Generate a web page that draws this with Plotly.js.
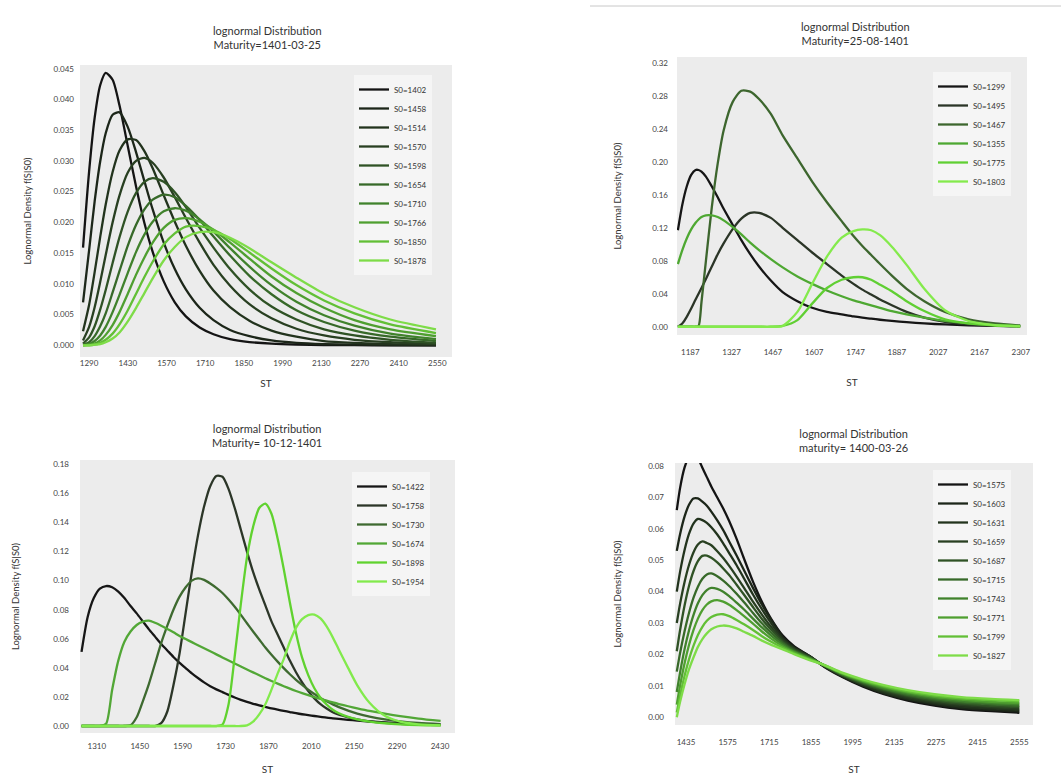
<!DOCTYPE html>
<html><head><meta charset="utf-8">
<script src="https://cdn.plot.ly/plotly-3.0.1.min.js"></script>
<style>html,body{margin:0;padding:0;background:#fff}#chart{width:1061px;height:776px}</style>
</head><body><div id="chart"></div>
<script>
// ---------------- Panel 1: Maturity=1401-03-25 ----------------
const st_p1 = [1268,1290,1310,1330,1350,1375,1400,1430,1460,1490,1520,1560,1600,1640,1690,1740,1800,1870,1950,2040,2140,2250,2380,2545];
const s0_p1 = ['S0=1402','S0=1458','S0=1514','S0=1570','S0=1598','S0=1654','S0=1710','S0=1766','S0=1850','S0=1878'];
const p1_1402 = [.0159,.0283,.0370,.0423,.0443,.0432,.0390,.0324,.0258,.0199,.0152,.0104,.0070,.0047,.0029,.0018,.0010,.00053,.00026,.00012,.00005,.00002,.00001,0];
const p1_1458 = [.0070,.0155,.0234,.0299,.0345,.0375,.0379,.0355,.0314,.0267,.0221,.0167,.0124,.0091,.0061,.0041,.0025,.0015,.0008,.0004,.0002,.0001,.00004,.00001];
const p1_1514 = [.0023,.0066,.0119,.0176,.0229,.0282,.0317,.0335,.0334,.0316,.0288,.0244,.0201,.0162,.0121,.0089,.0062,.0040,.0024,.0014,.0007,.0004,.0002,.0001];
const p1_1570 = [.0008,.0030,.0062,.0103,.0147,.0200,.0244,.0281,.0300,.0305,.0297,.0273,.0241,.0207,.0167,.0131,.0097,.0067,.0044,.0027,.0016,.0009,.0005,.0002];
const p1_1598 = [.0003,.0013,.0031,.0058,.0090,.0134,.0176,.0218,.0248,.0266,.0272,.0266,.0249,.0225,.0191,.0159,.0124,.0091,.0063,.0042,.0026,.0016,.0009,.0004];
const p1_1654 = [.0001,.0005,.0015,.0031,.0052,.0086,.0121,.0162,.0196,.0221,.0237,.0245,.0241,.0227,.0204,.0177,.0146,.0113,.0083,.0057,.0038,.0024,.0014,.0007];
const p1_1710 = [.00003,.0002,.0007,.0016,.0030,.0054,.0082,.0118,.0152,.0180,.0201,.0218,.0223,.0219,.0205,.0185,.0158,.0128,.0098,.0071,.0049,.0032,.0019,.0010];
const p1_1766 = [0,.0001,.0003,.0008,.0017,.0033,.0054,.0084,.0115,.0143,.0167,.0191,.0204,.0207,.0201,.0188,.0167,.0141,.0112,.0085,.0061,.0041,.0026,.0015];
const p1_1850 = [0,0,.0001,.0004,.0009,.0019,.0034,.0057,.0084,.0111,.0136,.0164,.0182,.0193,.0194,.0188,.0173,.0151,.0125,.0098,.0073,.0052,.0034,.0020];
const p1_1878 = [0,0,.0001,.0002,.0005,.0011,.0021,.0039,.0061,.0085,.0109,.0138,.0160,.0176,.0184,.0184,.0175,.0158,.0135,.0110,.0084,.0062,.0042,.0026];
const xt_p1 = [1290,1430,1570,1710,1850,1990,2130,2270,2410,2550];
const yt_p1 = [0,0.005,0.010,0.015,0.020,0.025,0.030,0.035,0.040,0.045];

// ---------------- Panel 2: Maturity=25-08-1401 ----------------
const st_p2 = [1145,1160,1175,1190,1205,1215,1225,1240,1260,1280,1300,1330,1360,1390,1420,1460,1500,1550,1600,1650,1700,1740,1770,1800,1830,1870,1920,1980,2050,2130,2220,2305];
const s0_p2 = ['S0=1299','S0=1495','S0=1467','S0=1355','S0=1775','S0=1803'];
const p2_1299 = [.117,.148,.170,.184,.190,.190,.188,.182,.170,.157,.143,.124,.105,.088,.073,.056,.042,.031,.023,.018,.015,.0125,.011,.0098,.0085,.007,.0055,.004,.0028,.0018,.001,.0005];
const p2_1495 = [0,.004,.012,.022,.033,.040,.047,.058,.073,.088,.101,.118,.131,.138,.138,.132,.120,.105,.090,.076,.062,.052,.045,.039,.033,.026,.018,.011,.006,.003,.0013,.0006];
const p2_1467 = [0,0,0,0,0,.001,.03,.08,.145,.198,.238,.272,.286,.285,.276,.258,.232,.204,.176,.151,.128,.110,.098,.087,.076,.062,.046,.031,.018,.009,.004,.0015];
const p2_1355 = [.076,.093,.107,.118,.126,.130,.133,.135,.135,.133,.129,.121,.112,.102,.093,.082,.072,.061,.052,.044,.037,.032,.029,.026,.023,.019,.015,.011,.007,.004,.002,.001];
const p2_1775 = [0,0,0,0,0,0,0,0,0,0,0,0,0,0,0,0,.001,.008,.028,.047,.057,.060,.060,.057,.051,.043,.031,.019,.009,.004,.0015,.0005];
const p2_1803 = [0,0,0,0,0,0,0,0,0,0,0,0,0,0,0,0,.001,.018,.052,.085,.108,.116,.118,.117,.111,.097,.075,.046,.020,.007,.002,.0005];
const xt_p2 = [1187,1327,1467,1607,1747,1887,2027,2167,2307];
const yt_p2 = [0,0.04,0.08,0.12,0.16,0.20,0.24,0.28,0.32];

// ---------------- Panel 3: Maturity= 10-12-1401 ----------------
const st_p3 = [1260,1280,1300,1320,1340,1360,1380,1400,1420,1440,1460,1480,1500,1520,1540,1560,1580,1600,1620,1640,1660,1680,1700,1720,1740,1760,1780,1800,1820,1840,1860,1880,1900,1920,1940,1960,1980,2000,2020,2040,2060,2080,2100,2130,2160,2200,2250,2300,2360,2432];
const s0_p3 = ['S0=1422','S0=1758','S0=1730','S0=1674','S0=1898','S0=1954'];
const p3_1422 = [.051,.075,.088,.0945,.0963,.0955,.0925,.0880,.0825,.0775,.0720,.0665,.0615,.0565,.0520,.0475,.0435,.0398,.0362,.0330,.0300,.0274,.0252,.0233,.0214,.0196,.0180,.0166,.0153,.0142,.0132,.0122,.0113,.0104,.0096,.0088,.0081,.0075,.0069,.0063,.0058,.0053,.0049,.0043,.0037,.0031,.0025,.0019,.0014,.0010];
const p3_1758 = [0,0,0,0,0,0,0,0,0,0,0,0,0,.002,.010,.028,.050,.078,.106,.131,.151,.165,.172,.1715,.163,.150,.135,.120,.106,.094,.083,.072,.063,.054,.045,.037,.030,.024,.019,.015,.012,.0095,.0078,.006,.0045,.0032,.0022,.0015,.001,.0006];
const p3_1730 = [0,0,0,0,0,0,0,0,.0005,.006,.017,.029,.043,.057,.069,.080,.089,.0955,.100,.1015,.1005,.098,.0950,.0915,.0870,.0820,.0765,.0707,.0650,.0595,.0540,.0490,.0443,.0398,.0356,.0318,.0283,.0250,.0220,.0193,.0170,.0149,.0130,.0106,.0085,.0064,.0045,.0032,.0021,.0013];
const p3_1674 = [0,0,0,0,.0015,.025,.045,.058,.065,.0695,.0718,.0725,.0710,.0690,.0668,.0645,.0620,.0598,.0577,.0556,.0535,.0514,.0493,.0472,.0451,.0430,.0409,.0389,.0369,.0349,.0329,.0310,.0292,.0274,.0257,.0241,.0226,.0212,.0199,.0186,.0174,.0162,.0151,.0136,.0122,.0104,.0085,.0068,.0051,.0035];
const p3_1898 = [0,0,0,0,0,0,0,0,0,0,0,0,0,0,0,0,0,0,0,0,0,0,0,.001,.015,.048,.084,.116,.137,.150,.153,.146,.129,.108,.085,.064,.047,.035,.026,.0195,.0148,.0112,.0088,.0063,.0046,.0031,.0019,.0012,.0007,.0004];
const p3_1954 = [0,0,0,0,0,0,0,0,0,0,0,0,0,0,0,0,0,0,0,0,0,0,0,0,0,0,0,.0005,.003,.008,.015,.025,.036,.046,.058,.0675,.0735,.0763,.0766,.0740,.0685,.0610,.0525,.0400,.0280,.0160,.0070,.0030,.0012,.0005];
const xt_p3 = [1310,1450,1590,1730,1870,2010,2150,2290,2430];
const yt_p3 = [0,0.02,0.04,0.06,0.08,0.10,0.12,0.14,0.16,0.18];

// ---------------- Panel 4: maturity= 1400-03-26 ----------------
const st_p4 = [1404,1415,1430,1445,1460,1475,1490,1505,1520,1540,1560,1580,1605,1630,1660,1690,1720,1760,1800,1850,1900,1960,2030,2100,2180,2270,2360,2460,2555];
const s0_p4 = ['S0=1575','S0=1603','S0=1631','S0=1659','S0=1687','S0=1715','S0=1743','S0=1771','S0=1799','S0=1827'];
const p4_1575 = [.066,.073,.0795,.083,.084,.0825,.0795,.0765,.0735,.0700,.0665,.0625,.0568,.0505,.0432,.0368,.0315,.0260,.0225,.0195,.0160,.0128,.0097,.0073,.0053,.0037,.0026,.0019,.0014];
const p4_1603 = [.053,.0583,.0639,.0677,.0697,.0697,.0687,.0674,.0655,.0627,.0596,.0560,.0515,.0468,.0412,.0359,.0312,.0255,.0222,.0195,.0161,.0130,.0100,.0076,.0057,.0041,.0030,.0023,.0018];
const p4_1631 = [.040,.0463,.0532,.0584,.0617,.0632,.0628,.0619,.0605,.0582,.0554,.0523,.0484,.0442,.0391,.0344,.0301,.0250,.0219,.0194,.0162,.0131,.0102,.0079,.0060,.0045,.0034,.0028,.0023];
const p4_1659 = [.030,.0361,.0430,.0485,.0525,.0550,.0560,.0555,.0548,.0529,.0507,.0482,.0448,.0412,.0368,.0327,.0289,.0245,.0217,.0193,.0163,.0133,.0105,.0083,.0064,.0049,.0039,.0032,.0027];
const p4_1687 = [.021,.0277,.0355,.0418,.0465,.0497,.0514,.0515,.0508,.0493,.0474,.0453,.0422,.0390,.0351,.0313,.0280,.0240,.0214,.0191,.0164,.0134,.0107,.0086,.0068,.0053,.0043,.0036,.0032];
const p4_1715 = [.0145,.0204,.0273,.0332,.0380,.0416,.0441,.0455,.0458,.0449,.0435,.0418,.0393,.0366,.0332,.0299,.0270,.0236,.0211,.0189,.0164,.0136,.0110,.0089,.0071,.0057,.0047,.0041,.0036];
const p4_1743 = [.008,.0142,.0216,.0276,.0325,.0363,.0389,.0405,.0412,.0409,.0400,.0386,.0365,.0343,.0314,.0286,.0261,.0231,.0208,.0188,.0165,.0137,.0112,.0092,.0075,.0061,.0051,.0045,.0041];
const p4_1771 = [.004,.0100,.0171,.0230,.0277,.0314,.0341,.0359,.0369,.0373,.0368,.0358,.0341,.0322,.0298,.0273,.0251,.0226,.0206,.0186,.0165,.0139,.0115,.0096,.0079,.0065,.0056,.0049,.0045];
const p4_1799 = [.0015,.0068,.0131,.0184,.0227,.0262,.0288,.0307,.0319,.0327,.0328,.0322,.0310,.0296,.0278,.0258,.0241,.0221,.0203,.0184,.0166,.0140,.0117,.0099,.0082,.0069,.0060,.0054,.0050];
const p4_1827 = [0,.0048,.0104,.0152,.0190,.0224,.0249,.0267,.0280,.0289,.0292,.0290,.0283,.0272,.0259,.0244,.0231,.0216,.0200,.0182,.0166,.0142,.0120,.0102,.0086,.0073,.0064,.0058,.0054];
const xt_p4 = [1435,1575,1715,1855,1995,2135,2275,2415,2555];
const yt_p4 = [0,0.01,0.02,0.03,0.04,0.05,0.06,0.07,0.08];

// ---------------- styles ----------------
const green10 = ['#141414','#1c2619','#22331d','#283f21','#2f5225','#376929','#40822c','#4f9f30','#62bf36','#7edc48'];
const colors_p2 = ['#161616','#2b3527','#3d662e','#4ea832','#60cf33','#84ea4c'];
const colors_p3 = ['#161616','#2c3628','#3e6a30','#52a736','#60d22f','#82ea4c'];
const FONT = 'Lato, "Open Sans", "DejaVu Sans", sans-serif';

const panels = [
  {st: st_p1, names: s0_p1, ys: [p1_1402,p1_1458,p1_1514,p1_1570,p1_1598,p1_1654,p1_1710,p1_1766,p1_1850,p1_1878], colors: green10, xa:'x', ya:'y', leg:'legend'},
  {st: st_p2, names: s0_p2, ys: [p2_1299,p2_1495,p2_1467,p2_1355,p2_1775,p2_1803], colors: colors_p2, xa:'x2', ya:'y2', leg:'legend2'},
  {st: st_p3, names: s0_p3, ys: [p3_1422,p3_1758,p3_1730,p3_1674,p3_1898,p3_1954], colors: colors_p3, xa:'x3', ya:'y3', leg:'legend3'},
  {st: st_p4, names: s0_p4, ys: [p4_1575,p4_1603,p4_1631,p4_1659,p4_1687,p4_1715,p4_1743,p4_1771,p4_1799,p4_1827], colors: green10, xa:'x4', ya:'y4', leg:'legend4'}
];

const traces = [];
panels.forEach(p => {
  p.ys.forEach((y, i) => {
    traces.push({
      type:'scatter', mode:'lines', x:p.st, y:y, name:p.names[i],
      line:{color:p.colors[i], width:2.3, shape:'spline', smoothing:0.7},
      xaxis:p.xa, yaxis:p.ya, legend:p.leg, hoverinfo:'skip'
    });
  });
});

function xaxis(domain, range, tv, anchor, lblOff, titleOff) {
  return {domain, range, tickvals:tv, ticktext:tv.map(String), anchor, showgrid:false, zeroline:false, showline:false,
    ticks:'', ticklabelstandoff:lblOff, tickfont:{family:FONT, size:8, color:'#444'},
    title:{text:'ST', font:{family:FONT, size:10, color:'#333'}, standoff:titleOff}};
}
function yaxis(domain, range, tv, fmt, anchor, lblOff, titleOff) {
  return {domain, range, tickvals:tv, tickformat:fmt, anchor, showgrid:false, zeroline:false, showline:false,
    ticks:'', ticklabelstandoff:lblOff, tickfont:{family:FONT, size:8, color:'#444'},
    title:{text:'Lognormal Density f(S|S0)', font:{family:FONT, size:9.5, color:'#333'}, standoff:titleOff}};
}
function leg(x, y) {
  return {x, y, xanchor:'left', yanchor:'top', bgcolor:'rgba(246,246,246,0.9)', borderwidth:0,
    font:{family:FONT, size:8, color:'#333'}, tracegroupgap:0};
}
const W = 1061, H = 776;
const px = v => v / W, py = v => 1 - v / H;

const ttl = (x, y, t) => ({xref:'paper', yref:'paper', x, y, xanchor:'center', yanchor:'middle', showarrow:false,
  text:t, font:{family:FONT, size:11, color:'#333'}});

const layout = {
  width:W, height:H, margin:{l:0, r:0, t:0, b:0}, paper_bgcolor:'#ffffff', plot_bgcolor:'#ececec',
  showlegend:true, hovermode:false,
  xaxis:  xaxis([px(80), px(452)], [1257, 2603], xt_p1, 'y', 0, 12),
  yaxis:  yaxis([py(357), py(65)], [-0.0019, 0.0456], yt_p1, '.3f', 'x', 5, 20),
  xaxis2: xaxis([px(677), px(1027)], [1142, 2328], xt_p2, 'y2', 11, 22),
  yaxis2: yaxis([py(335), py(57)], [-0.010, 0.327], yt_p2, '.2f', 'x2', 8, 28),
  xaxis3: xaxis([px(80), px(455)], [1255, 2479], xt_p3, 'y3', 7, 15),
  yaxis3: yaxis([py(733), py(460)], [-0.0048, 0.183], yt_p3, '.2f', 'x3', 10, 31),
  xaxis4: xaxis([px(675), px(1033)], [1398, 2601], xt_p4, 'y4', 11, 19),
  yaxis4: yaxis([py(725), py(463)], [-0.0025, 0.081], yt_p4, '.2f', 'x4', 10, 24),
  legend:  leg(px(354), py(75)),
  legend2: leg(px(933), py(72)),
  legend3: leg(px(352), py(472)),
  legend4: leg(px(933), py(470)),
  annotations: [
    ttl(px(267), py(37), 'lognormal Distribution<br>Maturity=1401-03-25'),
    ttl(px(855), py(34), 'lognormal Distribution<br>Maturity=25-08-1401'),
    ttl(px(267), py(435), 'lognormal Distribution<br>Maturity= 10-12-1401'),
    ttl(px(853), py(440), 'lognormal Distribution<br>maturity= 1400-03-26')
  ],
  shapes: [
    {type:'line', xref:'paper', yref:'paper', x0:px(590), x1:1, y0:py(6), y1:py(6), line:{color:'#c8c8c8', width:1}}
  ]
};

Plotly.newPlot('chart', traces, layout, {displayModeBar:false, staticPlot:true});
</script>
</body></html>
